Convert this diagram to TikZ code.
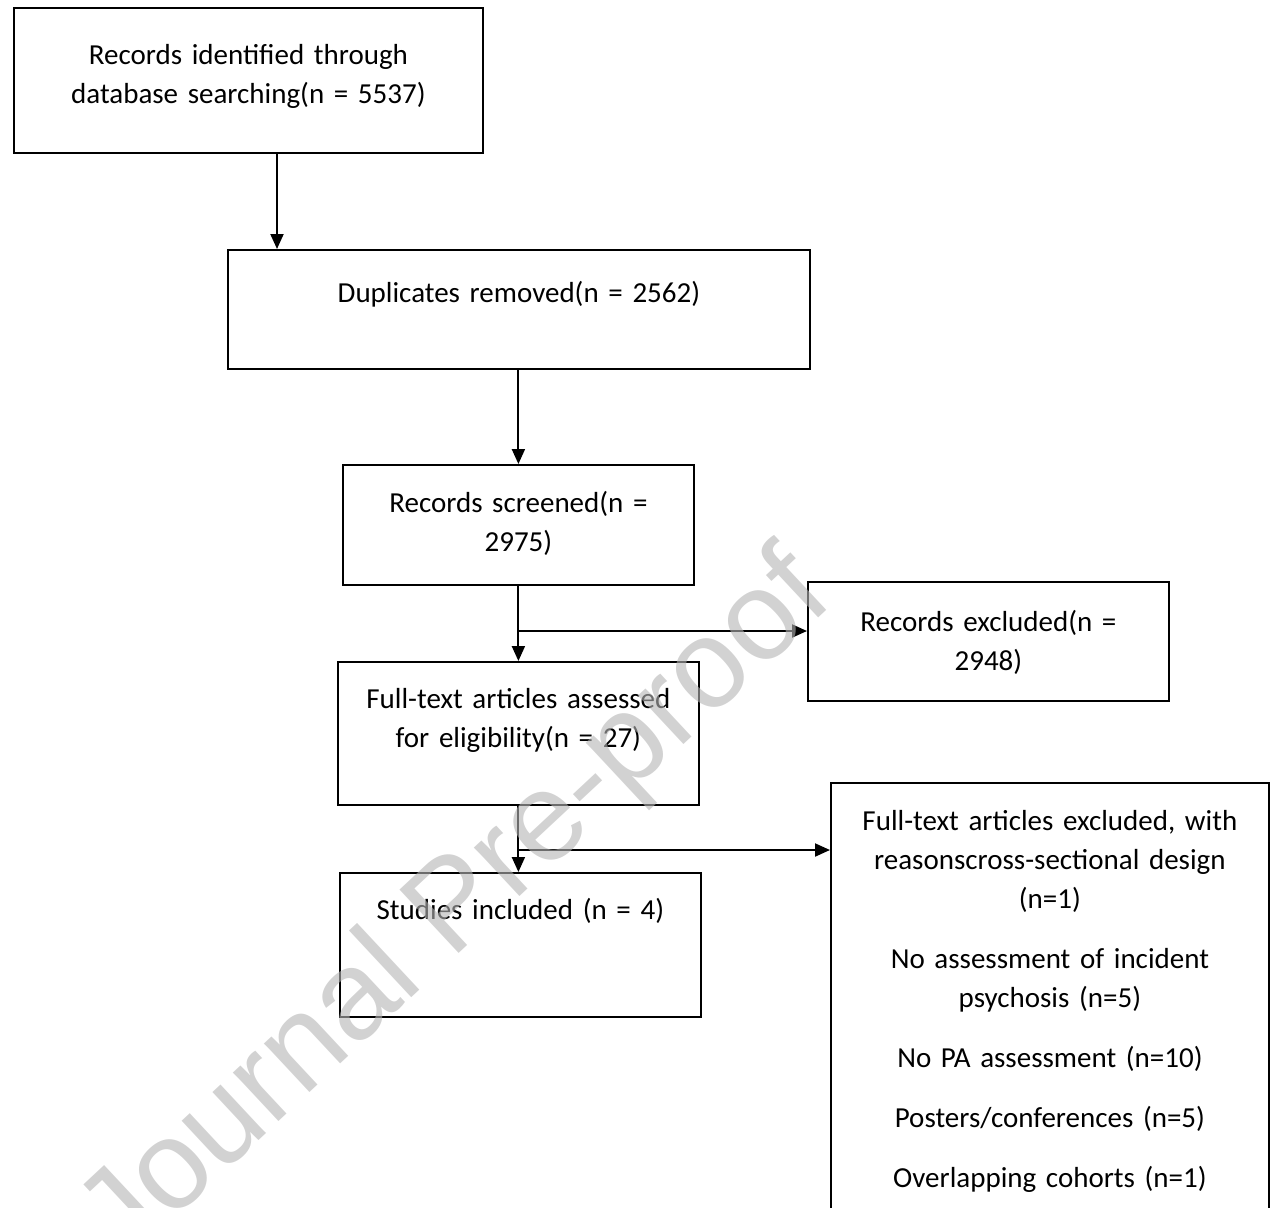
\documentclass[tikz,border=0pt]{standalone}
\usepackage{fontspec}
\setmainfont{Carlito}
\newfontfamily\wmfont{Liberation Sans}
\usepackage{tikz}
\usetikzlibrary{arrows.meta}
\definecolor{wmgray}{RGB}{180,180,180}

\begin{document}
\begin{tikzpicture}[x=1pt,y=-1pt]
		\useasboundingbox (0,0) rectangle (1273,1207);
		\clip (0,0) rectangle (1273,1207);
		\begin{scope}[every node/.style={rectangle,draw,line width=1.8pt,inner sep=0pt,
					  anchor=north west,align=center,font=\fontsize{29}{39}\selectfont}]
			\node[text width=469pt,text height=57pt,text depth=88pt] (B1) at (13,7) {Records identified through\\database searching(n = 5537)};
			\node[text width=582pt,text height=53pt,text depth=66pt] (B2) at (227,249) {Duplicates removed(n = 2562)};
			\node[text width=351pt,text height=48pt,text depth=72pt] (B3) at (342,464) {Records screened(n =\\2975)};
			\node[text width=361pt,text height=50pt,text depth=69pt] (B4) at (807,581) {Records excluded(n =\\2948)};
			\node[text width=361pt,text height=47pt,text depth=96pt] (B5) at (337,661) {Full-text articles assessed\\for eligibility(n = 27)};
			\node[text width=361pt,text height=47pt,text depth=97pt] (B6) at (339,872) {Studies included (n = 4)};
			\node[text width=438pt,text height=48pt,text depth=440pt] (B7) at (830,782) {Full-text articles excluded, with\\reasonscross-sectional design\\(n=1)\\[21pt]
				No assessment of incident\\psychosis (n=5)\\[21pt]
				No PA assessment (n=10)\\[21pt]
				Posters/conferences (n=5)\\[21pt]
				Overlapping cohorts (n=1)};
		\end{scope}
		
		\begin{scope}[line width=2pt,>={Triangle[length=15pt,width=13pt]}]
			\coordinate (J1) at (277,0);
			\coordinate (J2) at (517.5,631);
			\coordinate (J3) at (517.5,850);
			\draw [->] (B1.south -| J1) -- (B2.north -| J1);
			\draw [->] (B2.south -| B3.north) -- (B3.north);
			\draw [->] (B3.south) -- (B5.north);
			\draw [->] (J2) -- (J2 -| B4.west);
			\draw [->] (B5.south) -- (B6.north -| B5.south);
			\draw [->] (J3) -- (J3 -| B7.west);
		\end{scope}
		
		\node[rotate=43,text=wmgray,opacity=0.6,inner sep=0pt,font=\wmfont\fontsize{126}{126}\selectfont] (WM) at (458,910) {Journal Pre-proof};
	\end{tikzpicture}
\end{document}
